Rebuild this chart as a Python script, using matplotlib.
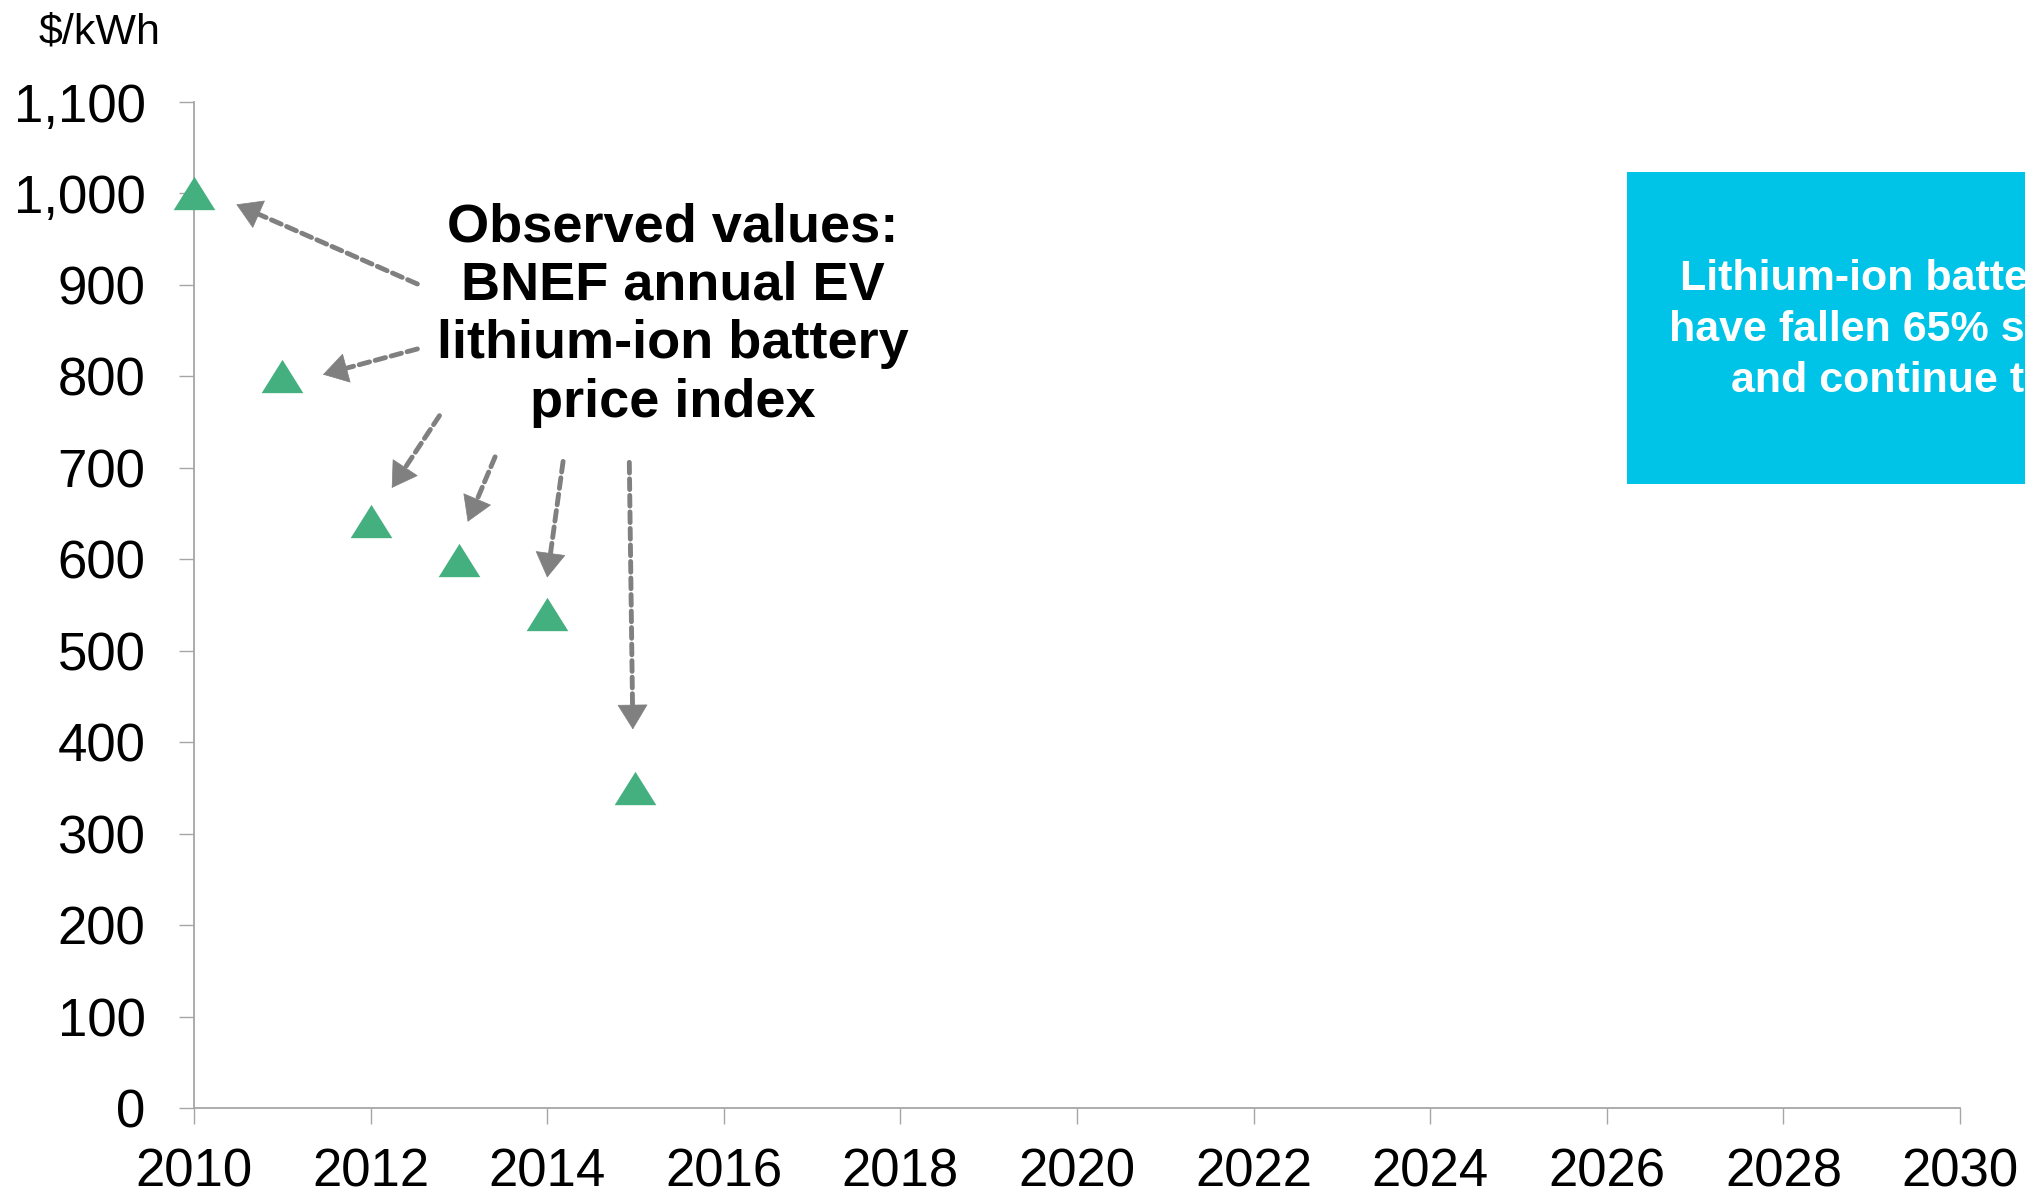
import matplotlib
matplotlib.use('Agg')
import matplotlib.pyplot as plt
import numpy as np
from matplotlib.patches import Rectangle
from matplotlib.path import Path
from matplotlib.ticker import FuncFormatter

plt.rcParams['font.family'] = ['Liberation Sans', 'DejaVu Sans']

# Observed BNEF pack prices
years = [2010, 2011, 2012, 2013, 2014, 2015]
prices = [1000, 800, 642, 599, 540, 350]

x_ticks = list(range(2010, 2031, 2))
y_ticks = list(range(0, 1101, 100))

note_text = 'Observed values:\nBNEF annual EV\nlithium-ion battery\nprice index'
box_text = 'Lithium-ion battery prices\nhave fallen 65% since 2010\nand continue to drop'

# arrows from the note to the points: (tail x, tail y, head x, head y) in data units
arrows = [
    (2012.53, 901, 2010.48, 988),
    (2012.53, 830, 2011.46, 802),
    (2012.78, 757, 2012.24, 678),
    (2013.41, 712, 2013.10, 641),
    (2014.18, 707, 2014.00, 580),
    (2014.93, 706, 2014.97, 414),
]

fig = plt.figure(figsize=(20.25, 11.96), dpi=100)
ax = fig.add_axes([0.0958, 0.0736, 0.8721, 0.8411])
ax.set_xlim(2010, 2030)
ax.set_ylim(0, 1100)

tri = Path([(0, 0.8), (-1, -0.8), (1, -0.8), (0, 0.8)],
           [Path.MOVETO, Path.LINETO, Path.LINETO, Path.CLOSEPOLY])
ax.plot(years, prices, linestyle='none', marker=tri, markersize=30,
        color='#45B07F', markeredgewidth=0, clip_on=False, zorder=5)

grey = '#808080'
for x0, y0, x1, y1 in arrows:
    # dashed shaft
    ax.annotate('', xy=(x1, y1), xytext=(x0, y0),
                arrowprops=dict(arrowstyle='-', color=grey, lw=3.5,
                                linestyle=(0, (2.2, 1.2)),
                                shrinkA=0, shrinkB=9))
    # solid head
    p0 = ax.transData.transform((x0, y0))
    p1 = ax.transData.transform((x1, y1))
    length_pt = np.hypot(*(p1 - p0)) * 72 / fig.dpi
    ax.annotate('', xy=(x1, y1), xytext=(x0, y0),
                arrowprops=dict(arrowstyle='-|>,head_length=0.85,head_width=0.52',
                                color=grey, lw=0.5, mutation_scale=20,
                                shrinkA=length_pt - 18, shrinkB=0))

ax.text(2015.42, 867, note_text, ha='center', va='center', fontsize=39,
        fontweight='bold', linespacing=1.22, color='black')

ax.set_xticks(x_ticks)
ax.set_yticks(y_ticks)
ax.yaxis.set_major_formatter(FuncFormatter(lambda v, p: f'{int(v):,}'))

for s in ['top', 'right']:
    ax.spines[s].set_visible(False)
for s in ['left', 'bottom']:
    ax.spines[s].set_color('#A6A6A6')
    ax.spines[s].set_linewidth(1.3)
ax.tick_params(axis='x', length=11.5, width=1.0, color='#A6A6A6', pad=17, labelsize=38)
ax.tick_params(axis='y', length=11, width=1.0, color='#A6A6A6', pad=24, labelsize=38)

fig.text(39 / 2025, 1 - 12 / 1196, '$/kWh', ha='left', va='top', fontsize=31)

fig.patches.append(Rectangle((0.8035, 0.5953), 0.4, 0.2609, transform=fig.transFigure,
                             facecolor='#00C3E8', edgecolor='none'))
fig.text(0.96, 0.724, box_text, ha='center', va='center', fontsize=31,
         fontweight='bold', color='white', linespacing=1.36)

fig.savefig('out.png', dpi=100)
